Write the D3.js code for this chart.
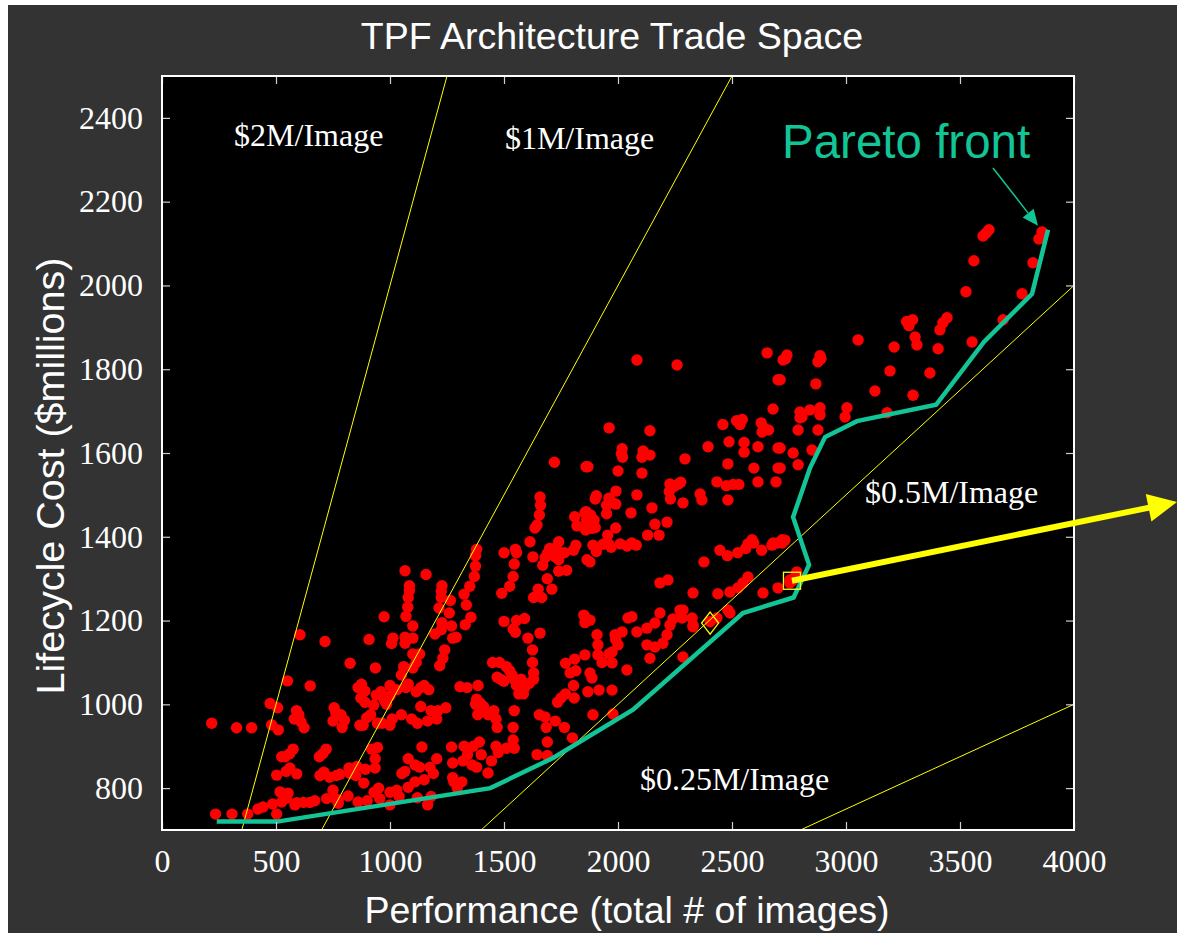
<!DOCTYPE html>
<html>
<head>
<meta charset="utf-8">
<script src="https://cdn.jsdelivr.net/npm/d3@7"></script>
<style>
  html, body { margin: 0; padding: 0; background: #ffffff; }
  svg { display: block; }
</style>
</head>
<body>
<svg id="chart" width="1177" height="933"></svg>
<script>
// ---- data -------------------------------------------------------------
const title = "TPF Architecture Trade Space";
const xLabel = "Performance (total # of images)";
const yLabel = "Lifecycle Cost ($millions)";

const xTicks = [0, 500, 1000, 1500, 2000, 2500, 3000, 3500, 4000];
const yTicks = [800, 1000, 1200, 1400, 1600, 1800, 2000, 2200, 2400];

// cost-per-image reference lines ($M per image)
const isoRates = [2, 1, 0.5, 0.25];
const isoLabels = ["$2M/Image", "$1M/Image", "$0.5M/Image", "$0.25M/Image"];
// where each label sits, in [images, $M]
const isoLabelAt = [[316, 2333], [1504, 2326], [3083, 1481], [2096, 796]];

// candidate architectures: [images, lifecycle cost $M]
const architectures = [
  [218,955],[327,944],[393,944],
  [235,738],[307,738],[376,738],[421,750],[443,755],[485,762],[503,738],[525,767],[547,776],[553,788],[518,791],[583,760],[591,765],[620,766],[648,766],[670,770],[722,775],[773,764],
  [503,831],[561,848],[591,834],[545,840],
  [693,830],[710,838],[735,826],[765,830],[780,833],[825,835],
  [750,795],[760,775],[773,772],[816,781],[860,767],[900,770],[930,790],[950,800],[955,775],
  [481,951],[510,939],[474,1002],[507,992],[550,1056],[605,1166],[650,1044],[715,1150],[825,1098],[908,1155],[936,1087],[974,1209],[1007,1145],
  [580,965],[590,985],[600,975],[610,958],[623,944],
  [755,992],[762,980],[750,960],[785,975],[800,962],[790,945],
  [860,1040],[875,1048],[890,1032],[872,1015],[890,1005],
  [940,1022],[960,1030],[975,1010],[928,998],[915,975],[898,968],[882,950],[868,950],[945,955],[965,955],[985,1000],[1000,1020],
  [945,897],[920,893],
  [575,893],[560,882],[540,875],[525,875],
  [720,893],[705,882],[690,875],
  [820,848],[840,840],[855,852],[850,830],[892,845],[885,812],[935,848],[935,870],
  [1013,1158],[1066,1146],
  [1100,1158],[1100,1120],[1130,1120],[1115,1100],[1100,1087],[1060,1090],[1050,1070],
  [1275,1158],[1240,1130],[1232,1110],[1218,1092],
  [1450,1100],[1480,1100],[1510,1090],[1525,1080],[1535,1070],[1545,1060],[1555,1045],[1565,1025],[1585,1025],[1500,1055],[1485,1060],[1470,1065],
  [1605,1158],[1625,1130],[1625,1100],[1630,1075],[1630,1060],[1610,1050],[1590,1040],[1575,1060],
  [1770,1098],[1810,1108],[1815,1080],[1790,1075],[1805,1045],[1770,1025],[1750,1015],[1735,1005],[1808,1015],
  [1307,1042],[1338,1040],
  [1386,1045],[1380,1012],[1375,1000],[1395,1003],[1410,995],[1385,975],
  [1000,1045],[1030,1035],[1070,1040],[1080,1048],[1115,1030],[1135,1040],[1170,1035],[1150,1045],
  [1135,995],[1180,985],[1210,985],[1245,992],[1205,965],[1165,960],[1120,955],[1095,965],[1050,975],[1010,965],[1000,950],
  [1430,975],[1455,985],[1465,965],[1470,945],[1545,985],[1540,945],[1540,915],[1465,900],
  [1655,975],[1680,970],[1685,945],[1725,960],[1765,945],[1800,920],[1690,910],
  [1140,898],
  [1270,898],[1325,900],[1365,900],[1392,910],[1340,880],[1320,865],[1360,855],[1380,850],[1400,880],[1445,865],[1475,885],[1510,895],[1545,895],
  [1080,870],[1065,840],[1052,835],[1110,855],[1130,850],[1175,850],[1205,870],[1190,835],[1150,820],[1110,815],[1080,802],[1030,795],[1000,790],[1040,780],[1120,777],[1180,780],[1165,760],[1000,760],
  [1275,860],[1275,825],[1280,815],[1295,800],[1315,815],
  [1430,836],
  [1645,880],[1690,878],
  [1721,1578],[1860,1567],[1066,1319],[1158,1310],
  [1658,1495],[1660,1475],[1655,1452],[1636,1421],[1645,1428],[1614,1388],
  [1860,1460],[1862,1440],[1858,1416],[1810,1448],[1820,1426],
  [1740,1388],[1730,1375],[1700,1372],[1690,1360],[1680,1350],[1670,1332],[1725,1352],[1740,1345],[1765,1362],[1775,1320],[1805,1368],[1815,1380],
  [1864,1345],
  [1740,1318],[1690,1300],[1710,1275],[1650,1275],[1665,1255],[1630,1255],
  [1627,1352],
  [1550,1370],[1555,1362],[1500,1362],
  [1545,1335],[1540,1305],[1525,1282],[1490,1265],
  [1380,1370],[1375,1355],[1375,1330],[1370,1305],[1350,1282],[1325,1263],
  [1085,1283],[1085,1272],[1080,1255],[1078,1232],[1070,1210],[1100,1187],
  [1228,1283],[1225,1270],[1225,1255],[1265,1248],[1215,1230],[1260,1218],[1270,1187],[1228,1195],[1225,1178],
  [1335,1237],[1355,1208],[1330,1190],[1290,1160],
  [1500,1198],[1555,1200],[1590,1205],[1540,1180],[1550,1172],
  [1658,1170],
  [1850,1213],[1855,1195],
  [1066,1160],[1197,1168],
  [2083,1822],[2259,1810],[2654,1839],[2724,1822],[2702,1775],[2680,1705],
  [1961,1660],[2140,1653],
  [2460,1668],[2520,1677],[2545,1680],[2535,1668],
  [2628,1672],[2638,1660],[2660,1655],[2632,1650],
  [2018,1610],[2015,1598],[2020,1590],[2110,1605],[2140,1595],[2105,1590],
  [2294,1586],[2395,1615],[2487,1627],[2553,1625],[2553,1602],[2614,1615],[2702,1612],
  [2482,1574],[2596,1564],[2702,1564],[1868,1567],[2000,1557],[2105,1552],
  [2434,1531],[2475,1522],[2505,1525],[2530,1525],[2614,1531],[2693,1531],
  [2482,1488],
  [2228,1526],[2225,1508],[2245,1520],[2265,1526],[2275,1530],[2230,1490],
  [2360,1502],[2368,1488],[2285,1481],
  [2083,1500],[2149,1469],[2057,1457],[1991,1509],
  [1905,1498],[1900,1490],[1960,1492],[1975,1482],[1990,1478],[1950,1475],[1950,1455],
  [1855,1457],[1880,1452],[1895,1440],[1865,1432],[1885,1420],[1900,1422],
  [1990,1421],[1955,1404],
  [2162,1430],[2215,1435],[2180,1404],[2130,1404],
  [1935,1382],[1960,1382],[2010,1383],[2060,1385],[1890,1380],
  [2588,1393],[2570,1383],[2680,1385],[2720,1393],
  [1877,1340],[1905,1365],[1970,1375],[2040,1378],[2080,1380],
  [2184,1290],[2219,1297],[2329,1266],[2377,1340],
  [2447,1368],[2480,1355],[2525,1362],[2560,1372],[2595,1385],[2630,1368],[2675,1380],[2700,1385],
  [2438,1264],[2491,1268],[2526,1278],[2548,1290],[2570,1304],
  [2636,1266],[2702,1278],[2754,1297],[2784,1316],
  [1855,1209],[1877,1201],[1908,1166],[1855,1118],[1912,1142],[1912,1118],[1877,1075],[1886,1063],[1868,1030],[1917,1034],[1974,1034],[2039,1082],[1974,1099],[2000,1142],[1987,1166],[2018,1173],[2044,1206],[2061,1209],[2083,1173],[1974,1125],[1990,1155],[1960,1120],[1930,1100],
  [2127,1182],[2162,1194],[2184,1218],[2127,1142],[2162,1137],[2197,1146],[2215,1166],[2228,1189],[2241,1204],[2272,1225],[2281,1206],[2325,1206],[2329,1189],[2140,1110],[2285,1113],[2329,1185],[2272,1209],[2285,1225],
  [2404,1197],[2434,1206],[2482,1225],[2491,1218],
  [1978,977],[1890,975],
  [3627,2133],[3615,2125],[3601,2118],[3860,2128],[3846,2111],[3561,2059],[3820,2054],[3526,1985],[3772,1980],
  [3266,1914],[3292,1918],[3276,1904],[3443,1923],[3425,1911],[3412,1894],[3689,1918],
  [3303,1877],[3311,1858],[3553,1865],[3053,1870],[3211,1853],[3404,1849],[3193,1796],[3368,1791],[3127,1748],[3294,1738],
  [2741,1834],[2735,1825],[2886,1832],[2877,1818],[2890,1825],[2711,1775],[2868,1765],
  [2798,1698],[2842,1703],[2886,1708],[2807,1686],[2886,1691],[3004,1708],[2996,1686],[3180,1696],
  [2798,1684],[2877,1655],[2790,1655],[2851,1607],[2768,1600],[2790,1572],[2711,1612],[2711,1564],
  [2732,1392],[2720,1385],[2776,1304],[2754,1290],[2765,1295]
];

// non-dominated frontier: [images, lifecycle cost $M]
const paretoFront = [
  [240,720],[505,720],[1440,800],[1715,872],[2066,987],[2548,1218],[2770,1255],
  [2838,1333],[2768,1447],[2842,1564],[2908,1638],[3048,1676],[3395,1715],
  [3605,1865],[3816,1980],[3886,2133]
];

// highlighted designs: [images, lifecycle cost $M]
const selectedSquare = [2763, 1295];
const selectedDiamond = [2404, 1194];

// ---- layout -------------------------------------------------------------
const W = 1177, H = 933;
const plot = { left: 162, right: 1074, top: 76, bottom: 830 };
const sans = "'Liberation Sans', Arial, sans-serif";
const serif = "'Liberation Serif', 'Times New Roman', serif";
const teal = "#12c496";

const svg = d3.select("#chart");

svg.append("rect").attr("width", W).attr("height", H).attr("fill", "#ffffff");
svg.append("rect").attr("x", 8).attr("y", 5).attr("width", W - 8).attr("height", H - 5).attr("fill", "#333333");

const x = d3.scaleLinear().domain([0, 4000]).range([plot.left, plot.right]);
const y = d3.scaleLinear().domain([700, 2500]).range([plot.bottom, plot.top]);

svg.append("defs").append("clipPath").attr("id", "plotClip")
  .append("rect")
  .attr("x", plot.left).attr("y", plot.top)
  .attr("width", plot.right - plot.left).attr("height", plot.bottom - plot.top);

svg.append("rect")
  .attr("x", plot.left).attr("y", plot.top)
  .attr("width", plot.right - plot.left).attr("height", plot.bottom - plot.top)
  .attr("fill", "#000000");

// title
svg.append("text")
  .attr("x", 612).attr("y", 49)
  .attr("text-anchor", "middle")
  .attr("fill", "#ffffff")
  .style("font-family", sans).style("font-size", "37.5px")
  .text(title);

const inner = svg.append("g").attr("clip-path", "url(#plotClip)");

// data points
inner.append("g").selectAll("circle")
  .data(architectures)
  .join("circle")
  .attr("cx", d => x(d[0]))
  .attr("cy", d => y(d[1]))
  .attr("r", 5.7)
  .attr("fill", "#ff0000");

// cost-per-image lines
inner.append("g").selectAll("line")
  .data(isoRates)
  .join("line")
  .attr("x1", r => x(700 / r)).attr("y1", y(700))
  .attr("x2", r => x(2500 / r)).attr("y2", y(2500))
  .attr("stroke", "#ffff00")
  .attr("stroke-width", 1);

// Pareto front
inner.append("path")
  .datum(paretoFront)
  .attr("d", d3.line().x(d => x(d[0])).y(d => y(d[1])))
  .attr("fill", "none")
  .attr("stroke", teal)
  .attr("stroke-width", 4.5)
  .attr("stroke-linejoin", "miter");

// highlighted designs
svg.append("rect")
  .attr("x", x(selectedSquare[0]) - 8.5).attr("y", y(selectedSquare[1]) - 8.5)
  .attr("width", 17).attr("height", 17)
  .attr("fill", "none").attr("stroke", "#ffff00").attr("stroke-width", 1.3);

svg.append("path")
  .attr("transform", `translate(${x(selectedDiamond[0])},${y(selectedDiamond[1])})`)
  .attr("d", "M0,-11L8.5,0L0,11L-8.5,0Z")
  .attr("fill", "none").attr("stroke", "#ffff00").attr("stroke-width", 1.3);

// frame and axes
const tickColor = "#cfcfcf";
function styleAxis(g) {
  g.select(".domain").remove();
  g.selectAll(".tick line").attr("stroke", tickColor).attr("stroke-width", 1.2);
  g.selectAll(".tick text")
    .attr("fill", "#ffffff")
    .style("font-family", serif).style("font-size", "32px");
}

svg.append("g")
  .attr("transform", `translate(0,${plot.bottom})`)
  .call(d3.axisBottom(x).tickValues(xTicks).tickFormat(d3.format("d")).tickSize(-8).tickPadding(19))
  .call(styleAxis);
svg.append("g")
  .attr("transform", `translate(0,${plot.top})`)
  .call(d3.axisTop(x).tickValues(xTicks).tickFormat("").tickSize(-8))
  .call(styleAxis);
svg.append("g")
  .attr("transform", `translate(${plot.left},0)`)
  .call(d3.axisLeft(y).tickValues(yTicks).tickFormat(d3.format("d")).tickSize(-8).tickPadding(19))
  .call(styleAxis);
svg.append("g")
  .attr("transform", `translate(${plot.right},0)`)
  .call(d3.axisRight(y).tickValues(yTicks).tickFormat("").tickSize(-8))
  .call(styleAxis);

svg.append("rect")
  .attr("x", plot.left).attr("y", plot.top)
  .attr("width", plot.right - plot.left).attr("height", plot.bottom - plot.top)
  .attr("fill", "none").attr("stroke", "#ffffff").attr("stroke-width", 2);

// axis titles
svg.append("text")
  .attr("x", 627).attr("y", 923)
  .attr("text-anchor", "middle")
  .attr("fill", "#ffffff")
  .style("font-family", sans).style("font-size", "37.5px")
  .text(xLabel);
svg.append("text")
  .attr("transform", "translate(64,476) rotate(-90)")
  .attr("text-anchor", "middle")
  .attr("fill", "#ffffff")
  .style("font-family", sans).style("font-size", "39.5px")
  .text(yLabel);

// cost-per-image labels
svg.append("g").selectAll("text")
  .data(isoLabels)
  .join("text")
  .attr("x", (d, i) => x(isoLabelAt[i][0]))
  .attr("y", (d, i) => y(isoLabelAt[i][1]))
  .attr("fill", "#ffffff")
  .style("font-family", serif).style("font-size", "32px")
  .text(d => d);

// Pareto front callout
svg.append("text")
  .attr("x", 782).attr("y", 158)
  .attr("fill", teal)
  .style("font-family", sans).style("font-size", "47.5px")
  .text("Pareto front");

const calloutTip = [x(paretoFront[paretoFront.length - 1][0]) - 10, y(paretoFront[paretoFront.length - 1][1]) - 4];
const calloutStart = [993, 168];
{
  const a = Math.atan2(calloutTip[1] - calloutStart[1], calloutTip[0] - calloutStart[0]);
  const len = 16, half = 7;
  const bx = calloutTip[0] - len * Math.cos(a), by = calloutTip[1] - len * Math.sin(a);
  svg.append("line")
    .attr("x1", calloutStart[0]).attr("y1", calloutStart[1])
    .attr("x2", bx).attr("y2", by)
    .attr("stroke", teal).attr("stroke-width", 1.5);
  svg.append("path")
    .attr("d", `M${calloutTip[0]},${calloutTip[1]}L${bx + half * Math.sin(a)},${by - half * Math.cos(a)}L${bx - half * Math.sin(a)},${by + half * Math.cos(a)}Z`)
    .attr("fill", teal);
}

// yellow pointer leaving the highlighted design
{
  const s = [x(selectedSquare[0]), y(selectedSquare[1])];
  const tip = [1177, 502];
  const a = Math.atan2(tip[1] - s[1], tip[0] - s[0]);
  const len = 29, half = 14;
  const bx = tip[0] - len * Math.cos(a), by = tip[1] - len * Math.sin(a);
  svg.append("line")
    .attr("x1", s[0]).attr("y1", s[1])
    .attr("x2", bx + 2 * Math.cos(a)).attr("y2", by + 2 * Math.sin(a))
    .attr("stroke", "#ffff00").attr("stroke-width", 6);
  svg.append("path")
    .attr("d", `M${tip[0]},${tip[1]}L${bx + half * Math.sin(a)},${by - half * Math.cos(a)}L${bx - half * Math.sin(a)},${by + half * Math.cos(a)}Z`)
    .attr("fill", "#ffff00");
}
</script>
</body>
</html>
